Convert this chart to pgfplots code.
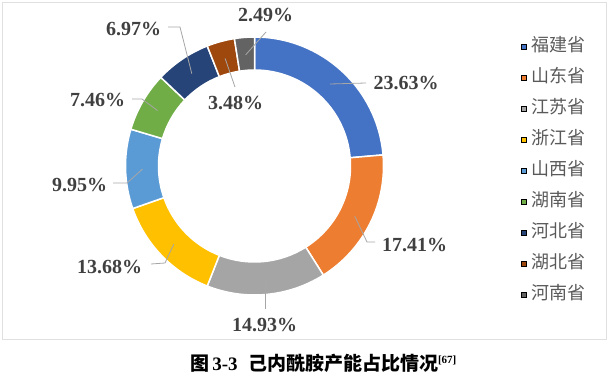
\documentclass[border=0pt]{standalone}
\usepackage{pgfplots}
\pgfplotsset{compat=1.18}
\usepackage{pgfplotstable}
\usepackage{fontspec}
\setmainfont{Liberation Serif}
\newfontfamily\cjk{Noto Sans CJK SC}
\definecolor{c0}{HTML}{4472C4}
\definecolor{c1}{HTML}{ED7D31}
\definecolor{c2}{HTML}{A5A5A5}
\definecolor{c3}{HTML}{FFC000}
\definecolor{c4}{HTML}{5B9BD5}
\definecolor{c5}{HTML}{70AD47}
\definecolor{c6}{HTML}{264478}
\definecolor{c7}{HTML}{9E480E}
\definecolor{c8}{HTML}{636363}
\definecolor{lbl}{HTML}{404040}
\definecolor{leg}{HTML}{595959}
\definecolor{ldr}{HTML}{A6A6A6}
\pgfplotstableread{
idx val
0 23.63
1 17.41
2 14.93
3 13.68
4 9.95
5 7.46
6 6.97
7 3.48
8 2.49
}\shares
\begin{document}
\begin{tikzpicture}
\begin{axis}[
  x=1pt, y=1pt, xmin=0, xmax=609, ymin=0, ymax=378,
  scale only axis, hide axis, clip=false,
  legend style={at={(axis cs:521,338.5)}, anchor=north west, draw=none, fill=none,
    inner sep=0pt, row sep=16pt, column sep=5pt,
    font=\cjk\fontsize{18}{18}\selectfont, text=leg,
    nodes={inner sep=0pt, text height=12pt, text depth=3pt}},
  legend cell align=left,
  legend image code/.code={\fill[#1] (0pt,-2.2pt) rectangle (5.2pt,3.0pt);},
]
\path (axis cs:0,0) rectangle (axis cs:609,378);
\draw[black!12, line width=0.75pt] (axis cs:2,39) rectangle (axis cs:606,376);
\def\cum{0}
\pgfplotsinvokeforeach{0,...,8}{%
  \pgfplotstablegetelem{#1}{val}\of\shares
  \pgfmathsetmacro\angA{90-3.6*\cum}%
  \pgfmathsetmacro\angB{90-3.6*(\cum+\pgfplotsretval)}%
  \pgfmathsetmacro\newcum{\cum+\pgfplotsretval}%
  \xdef\cum{\newcum}%
  \edef\tmp{\noexpand\fill[c#1, draw=white, line width=1.5pt] ([shift={(\angA:129pt)}]axis cs:254.5,212) arc[start angle=\angA, end angle=\angB, radius=129pt] -- ([shift={(\angB:96pt)}]axis cs:254.5,212) arc[start angle=\angB, end angle=\angA, radius=96pt] -- cycle;}%
  \tmp
}
\addlegendimage{fill=c0}\addlegendentry{福建省}
\addlegendimage{fill=c1}\addlegendentry{山东省}
\addlegendimage{fill=c2}\addlegendentry{江苏省}
\addlegendimage{fill=c3}\addlegendentry{浙江省}
\addlegendimage{fill=c4}\addlegendentry{山西省}
\addlegendimage{fill=c5}\addlegendentry{湖南省}
\addlegendimage{fill=c6}\addlegendentry{河北省}
\addlegendimage{fill=c7}\addlegendentry{湖北省}
\addlegendimage{fill=c8}\addlegendentry{河南省}
% leader lines
\draw[ldr, line width=0.8pt] (axis cs:330,294) -- (axis cs:366,295);
\draw[ldr, line width=0.8pt] (axis cs:354.8,161.7) -- (axis cs:367,136) -- (axis cs:375,136);
\draw[ldr, line width=0.8pt] (axis cs:265,100) -- (axis cs:265,69);
\draw[ldr, line width=0.8pt] (axis cs:173.8,133.8) -- (axis cs:165,115) -- (axis cs:151,114);
\draw[ldr, line width=0.8pt] (axis cs:142.5,208.9) -- (axis cs:127,195) -- (axis cs:113,195);
\draw[ldr, line width=0.8pt] (axis cs:157.5,267.5) -- (axis cs:142,279) -- (axis cs:132,279);
\draw[ldr, line width=0.8pt] (axis cs:191.8,304.3) -- (axis cs:180,351) -- (axis cs:168,351);
\draw[ldr, line width=0.8pt] (axis cs:225.1,319.6) -- (axis cs:235,291);
\draw[ldr, line width=0.8pt] (axis cs:245.7,323.2) -- (axis cs:266,346);
% labels
\tikzset{pl/.style={font=\bfseries\fontsize{20}{20}\selectfont, text=lbl, inner sep=0pt}}
\node[pl] at (axis cs:406,295) {23.63\%};
\node[pl] at (axis cs:414.5,133) {17.41\%};
\node[pl] at (axis cs:264.5,53) {14.93\%};
\node[pl] at (axis cs:109.5,111) {13.68\%};
\node[pl] at (axis cs:79.5,193) {9.95\%};
\node[pl] at (axis cs:97.5,278) {7.46\%};
\node[pl] at (axis cs:133.5,349) {6.97\%};
\node[pl] at (axis cs:235.5,275) {3.48\%};
\node[pl] at (axis cs:265.5,363) {2.49\%};
% caption
\node[font=\bfseries\fontsize{19}{19}\selectfont, inner sep=0pt] at (axis cs:323.5,15)
  {{\cjk 图}\,3-3\hspace{0.55em}{\cjk 己内酰胺产能占比情况}\textsuperscript{\fontsize{11}{11}\selectfont[67]}};
\end{axis}
\end{tikzpicture}
\end{document}
